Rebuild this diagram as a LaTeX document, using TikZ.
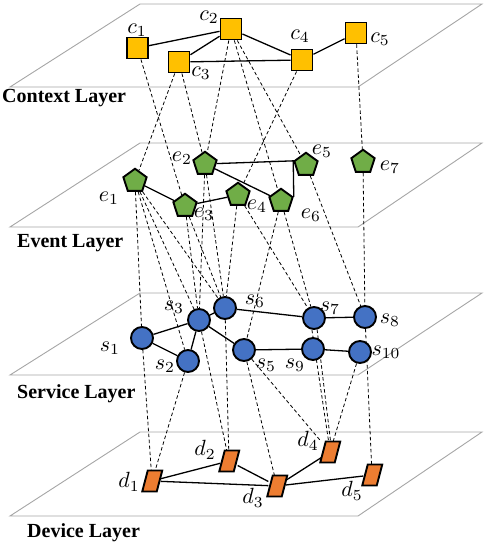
\documentclass[tikz,border=0pt]{standalone}
\usepackage{fontspec}
\setmainfont{Liberation Serif}
\usetikzlibrary{shapes.geometric,calc}
\pgfdeclarelayer{bg}
\pgfsetlayers{bg,main}
\definecolor{ctxc}{HTML}{FFC000}
\definecolor{evtc}{HTML}{70AD47}
\definecolor{srvc}{HTML}{4472C4}
\definecolor{devc}{HTML}{ED7D31}
\definecolor{planec}{HTML}{A6A6A6}
\newcommand\devnode[3]{%
  \node[devanchor] (#1) at (#2,#3) {};
  \filldraw[devshape] ($(#1.center)+(-4.25,-10.5)$) -- ++(14.5,0) -- ++(-5.5,21) -- ++(-14.5,0) -- cycle;}
\newcommand\lab[2]{\scalebox{2.2}{$#1_{#2}$}}
\begin{document}
\begin{tikzpicture}[x=1pt,y=-1pt,
  ctx/.style={rectangle, draw=black, line width=1.9pt, fill=ctxc, minimum size=21pt, inner sep=0pt},
  evt/.style={regular polygon, regular polygon sides=5, draw=black, line width=1.9pt, fill=evtc, minimum size=24.5pt, inner sep=0pt},
  srv/.style={circle, draw=black, line width=1.9pt, fill=srvc, minimum size=22pt, inner sep=0pt},
  devanchor/.style={rectangle, minimum width=17pt, minimum height=22pt, inner sep=0pt},
  devshape/.style={draw=black, line width=1.9pt, fill=devc, line join=miter},
  lbl/.style={inner sep=0pt},
  layerlbl/.style={font=\fontsize{20}{22}\selectfont\bfseries, anchor=base west, inner sep=0pt},
  plane/.style={draw=planec, line width=0.9pt, fill=white},
  edge/.style={draw=black, line width=1.3pt},
  link/.style={draw=black, dash pattern=on 3.5pt off 2.5pt, line width=0.8pt}]
\useasboundingbox (0,0) rectangle (483,549);

% ---- Context layer nodes
\node[ctx] (c1) at (137.5,48) {};
\node[ctx] (c2) at (231,29) {};
\node[ctx] (c3) at (179,62) {};
\node[ctx] (c4) at (302,60) {};
\node[ctx] (c5) at (356,33) {};
% ---- Event layer nodes
\node[evt] (e1) at (135,181) {};
\node[evt] (e2) at (205,164) {};
\node[evt] (e3) at (185,206) {};
\node[evt] (e4) at (238,195) {};
\node[evt] (e5) at (306,165) {};
\node[evt] (e6) at (281,201) {};
\node[evt] (e7) at (363,162) {};
% ---- Service layer nodes
\node[srv] (s1) at (142,338) {};
\node[srv] (s2) at (188,361) {};
\node[srv] (s3) at (199,320) {};
\node[srv] (s6) at (225,308) {};
\node[srv] (s5) at (244,350) {};
\node[srv] (s7) at (314,318) {};
\node[srv] (s8) at (365,317) {};
\node[srv] (s9) at (313,349) {};
\node[srv] (s10) at (360,352) {};
% ---- Device layer nodes
\devnode{d1}{152}{481}
\devnode{d2}{229}{461}
\devnode{d3}{277}{486}
\devnode{d4}{330}{452}
\devnode{d5}{372}{475}

% ---- labels
\node[lbl] (lc1) at (137,30) {\lab{c}{1}};
\node[lbl] (lc2) at (209,17) {\lab{c}{2}};
\node[lbl] (lc3) at (201,73) {\lab{c}{3}};
\node[lbl] (lc4) at (300,36) {\lab{c}{4}};
\node[lbl] (lc5) at (380,39) {\lab{c}{5}};
\node[lbl] (le1) at (109,198) {\lab{e}{1}};
\node[lbl] (le2) at (182,158) {\lab{e}{2}};
\node[lbl] (le3) at (204,214) {\lab{e}{3}};
\node[lbl] (le4) at (257,206) {\lab{e}{4}};
\node[lbl] (le5) at (322,151) {\lab{e}{5}};
\node[lbl] (le6) at (311,215) {\lab{e}{6}};
\node[lbl] (le7) at (390,167) {\lab{e}{7}};
\node[lbl] (ls1) at (110,348) {\lab{s}{1}};
\node[lbl] (ls2) at (165,366) {\lab{s}{2}};
\node[lbl] (ls3) at (174,307) {\lab{s}{3}};
\node[lbl] (ls6) at (255,301) {\lab{s}{6}};
\node[lbl] (ls5) at (266,365) {\lab{s}{5}};
\node[lbl] (ls9) at (295,365) {\lab{s}{9}};
\node[lbl] (ls7) at (330,308) {\lab{s}{7}};
\node[lbl] (ls8) at (390,320) {\lab{s}{8}};
\node[lbl] (ls10) at (386,352) {\lab{s}{10}};
\node[lbl] (ld1) at (129,482) {\lab{d}{1}};
\node[lbl] (ld2) at (205,450) {\lab{d}{2}};
\node[lbl] (ld3) at (253,498) {\lab{d}{3}};
\node[lbl] (ld4) at (308,441) {\lab{d}{4}};
\node[lbl] (ld5) at (352,491) {\lab{d}{5}};

\node[layerlbl] (lctx) at (2,102) {Context Layer};
\node[layerlbl] (levt) at (17,247) {Event Layer};
\node[layerlbl] (lsrv) at (17,398) {Service Layer};
\node[layerlbl] (ldev) at (27,537) {Device Layer};

\begin{pgfonlayer}{bg}
% planes
\path[plane] (140,4) -- (482,4) -- (358,87) -- (10,87) -- cycle;
\path[plane] (140,143) -- (482,143) -- (358,227) -- (10,227) -- cycle;
\path[plane] (140,293) -- (482,293) -- (358,375) -- (10,375) -- cycle;
\path[plane] (140,432) -- (482,432) -- (358,516) -- (10,516) -- cycle;
% context -> event links
\draw[link] (c1) -- (e3);
\draw[link] (c3) -- (e1);
\draw[link] (c3) -- (e2);
\draw[link] (c2) -- (e2);
\draw[link] (c2) -- (e6);
\draw[link] (c2) -- (e5);
\draw[link] (c4) -- (e4);
\draw[link] (c5) -- (e7);
% event -> service links
\draw[link] (e1) -- (s1);
\draw[link] (e1) -- (s2);
\draw[link] (e1) -- (s3);
\draw[link] (e1) -- (s6);
\draw[link] (e3) -- (s3);
\draw[link] (e3) -- (s6);
\draw[link] (e2) -- (s3);
\draw[link] (e2) -- (s6);
\draw[link] (e4) -- (s6);
\draw[link] (e4) -- (s7);
\draw[link] (e6) -- (s5);
\draw[link] (e6) -- (s7);
\draw[link] (e5) -- (s8);
\draw[link] (e7) -- (s8);
% service -> device links
\draw[link] (s1) -- (d1);
\draw[link] (s2) -- (d1);
\draw[link] (s3) -- (d2);
\draw[link] (s6) -- (d2);
\draw[link] (s5) -- (d3);
\draw[link] (s5) -- (d4);
\draw[link] (s7.-100) -- ([xshift=-1.5pt]d4.north);
\draw[link] (s7.-75) -- ([xshift=0.5pt]d4.north);
\draw[link] (s10) -- (d4);
\draw[link] (s8) -- (d5);
% solid edges
\draw[edge] (c1) -- (c2);
\draw[edge] (c2) -- (c3);
\draw[edge] (c3) -- (c4);
\draw[edge] (c2) -- (c4);
\draw[edge] (c4) -- (c5);
\draw[edge] (e1) -- (e3);
\draw[edge] (e3) -- (e4);
\draw[edge] (e2) -- (e6);
\draw[edge] (e2) -- (e5.corner 2) -- (e6.corner 5);
\draw[edge] (s1) -- (s3);
\draw[edge] (s1) -- (s2);
\draw[edge] (s2) -- (s3);
\draw[edge] (s3) -- (s6);
\draw[edge] (s3) -- (s5);
\draw[edge] (s6) -- (s7);
\draw[edge] (s7) -- (s8);
\draw[edge] (s5) -- (s9);
\draw[edge] (s9) -- (s10);
\draw[edge] (d1) -- (d2);
\draw[edge] (d1) -- (d3);
\draw[edge] (d2) -- (d3);
\draw[edge] (d3) -- (d4);
\draw[edge] (d3) -- (d5);
\end{pgfonlayer}
\end{tikzpicture}
\end{document}
